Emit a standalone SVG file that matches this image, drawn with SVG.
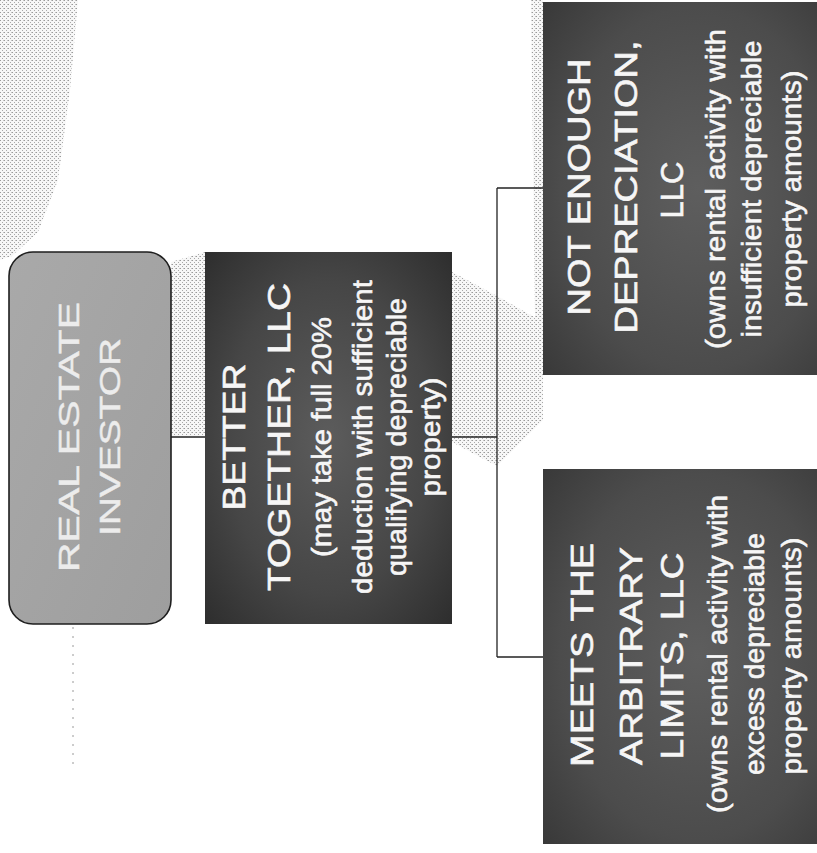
<svg xmlns="http://www.w3.org/2000/svg" width="817" height="853" viewBox="0 0 817 853">
  <defs>
    <pattern id="stip" width="4" height="4" patternUnits="userSpaceOnUse">
      <rect width="4" height="4" fill="#f7f7f7"/>
      <rect x="0" y="0" width="1" height="1" fill="#9a9a9a"/>
      <rect x="2" y="2" width="1" height="1" fill="#a8a8a8"/>
      <rect x="3" y="0" width="1" height="1" fill="#c4c4c4"/>
    </pattern>
    <radialGradient id="darkFill" cx="0.5" cy="0.5" r="0.7">
      <stop offset="0" stop-color="#5c5c5c"/>
      <stop offset="0.6" stop-color="#464646"/>
      <stop offset="1" stop-color="#2e2e2e"/>
    </radialGradient>
    <radialGradient id="darkFill2" cx="0.55" cy="0.5" r="0.75">
      <stop offset="0" stop-color="#5e5e5e"/>
      <stop offset="0.65" stop-color="#4c4c4c"/>
      <stop offset="1" stop-color="#383838"/>
    </radialGradient>
    <linearGradient id="lightFill" x1="0" y1="0" x2="1" y2="1">
      <stop offset="0" stop-color="#a9a9a9"/>
      <stop offset="1" stop-color="#9e9e9e"/>
    </linearGradient>
  </defs>
  <style>
    .t { font-family: "Liberation Sans", Arial, sans-serif; fill: #f6f6f6; stroke: #f6f6f6; stroke-width: 0.6px; }
    .inv { font-family: "Liberation Sans", Arial, sans-serif; fill: #ececec; stroke: #ececec; stroke-width: 0.4px; font-size: 30px; }
    .title { font-size: 32px; }
    .sub { font-size: 28px; }
    .conn { stroke: #222; stroke-width: 1.3; fill: none; }
    .bg { fill: url(#stip); stroke: none; }
  </style>

  <rect width="817" height="853" fill="#ffffff"/>

  <!-- faint halftone background shapes -->
  <g id="background">
    <polygon class="bg" points="0,0 78,0 70,90 58,180 38,232 12,256 0,260"/>
    <polygon class="bg" points="171,262 205,252 205,436 171,436"/>
    <polygon class="bg" points="452,272 497,296 543,322 543,420 497,466 452,442"/>
    <polygon class="bg" points="531,0 543,0 543,392 536,392"/>
  </g>

  <g id="connectors">
    <line class="conn" x1="171" y1="437" x2="205" y2="437"/>
    <line class="conn" x1="452" y1="437" x2="497" y2="437"/>
    <line class="conn" x1="497" y1="188" x2="497" y2="657"/>
    <line class="conn" x1="497" y1="188" x2="543" y2="188"/>
    <line class="conn" x1="497" y1="657" x2="543" y2="657"/>
    <line x1="73" y1="627" x2="73" y2="765" stroke="#9a9a9a" stroke-width="1" stroke-dasharray="2 7"/>
  </g>

  <g id="node-investor">
    <rect x="9" y="252" width="162" height="372" rx="24" ry="24" fill="url(#lightFill)" stroke="#1e1e1e" stroke-width="1.6"/>
    <text class="inv" transform="translate(79,437) rotate(-90)" x="-135" y="0" textLength="270" lengthAdjust="spacingAndGlyphs">REAL ESTATE</text>
    <text class="inv" transform="translate(120,437) rotate(-90)" x="-99" y="0" textLength="198" lengthAdjust="spacingAndGlyphs">INVESTOR</text>
  </g>

  <g id="node-better">
    <rect x="205" y="252" width="247" height="372" fill="url(#darkFill)"/>
    <text class="t title" transform="translate(245,437) rotate(-90)" x="-73.5" y="0" textLength="147" lengthAdjust="spacingAndGlyphs">BETTER</text>
    <text class="t title" transform="translate(290,437) rotate(-90)" x="-154" y="0" textLength="308" lengthAdjust="spacingAndGlyphs">TOGETHER, LLC</text>
    <text class="t sub" transform="translate(331,437) rotate(-90)" x="-120" y="0" textLength="240" lengthAdjust="spacingAndGlyphs">(may take full 20%</text>
    <text class="t sub" transform="translate(372,437) rotate(-90)" x="-157" y="0" textLength="314" lengthAdjust="spacingAndGlyphs">deduction with sufficient</text>
    <text class="t sub" transform="translate(406,437) rotate(-90)" x="-139" y="0" textLength="278" lengthAdjust="spacingAndGlyphs">qualifying depreciable</text>
    <text class="t sub" transform="translate(440,437) rotate(-90)" x="-59.5" y="0" textLength="119" lengthAdjust="spacingAndGlyphs">property)</text>
  </g>

  <g id="node-not-enough">
    <rect x="543" y="2" width="280" height="373" fill="url(#darkFill2)"/>
    <text class="t title" transform="translate(590,187) rotate(-90)" x="-128.5" y="0" textLength="257" lengthAdjust="spacingAndGlyphs">NOT ENOUGH</text>
    <text class="t title" transform="translate(637,187) rotate(-90)" x="-146.5" y="0" textLength="293" lengthAdjust="spacingAndGlyphs">DEPRECIATION,</text>
    <text class="t title" transform="translate(683,190) rotate(-90)" x="-28.5" y="0" textLength="57" lengthAdjust="spacingAndGlyphs">LLC</text>
    <text class="t sub" transform="translate(725,189) rotate(-90)" x="-160" y="0" textLength="320" lengthAdjust="spacingAndGlyphs">(owns rental activity with</text>
    <text class="t sub" transform="translate(761,189) rotate(-90)" x="-148.5" y="0" textLength="297" lengthAdjust="spacingAndGlyphs">insufficient depreciable</text>
    <text class="t sub" transform="translate(801,189) rotate(-90)" x="-118.5" y="0" textLength="237" lengthAdjust="spacingAndGlyphs">property amounts)</text>
  </g>

  <g id="node-meets">
    <rect x="543" y="469" width="280" height="375" fill="url(#darkFill2)"/>
    <text class="t title" transform="translate(593,655) rotate(-90)" x="-112" y="0" textLength="224" lengthAdjust="spacingAndGlyphs">MEETS THE</text>
    <text class="t title" transform="translate(642,656) rotate(-90)" x="-109" y="0" textLength="218" lengthAdjust="spacingAndGlyphs">ARBITRARY</text>
    <text class="t title" transform="translate(683,656) rotate(-90)" x="-103.5" y="0" textLength="207" lengthAdjust="spacingAndGlyphs">LIMITS, LLC</text>
    <text class="t sub" transform="translate(727,654) rotate(-90)" x="-159" y="0" textLength="318" lengthAdjust="spacingAndGlyphs">(owns rental activity with</text>
    <text class="t sub" transform="translate(764,654) rotate(-90)" x="-121" y="0" textLength="242" lengthAdjust="spacingAndGlyphs">excess depreciable</text>
    <text class="t sub" transform="translate(801,656) rotate(-90)" x="-118.5" y="0" textLength="237" lengthAdjust="spacingAndGlyphs">property amounts)</text>
  </g>
</svg>
